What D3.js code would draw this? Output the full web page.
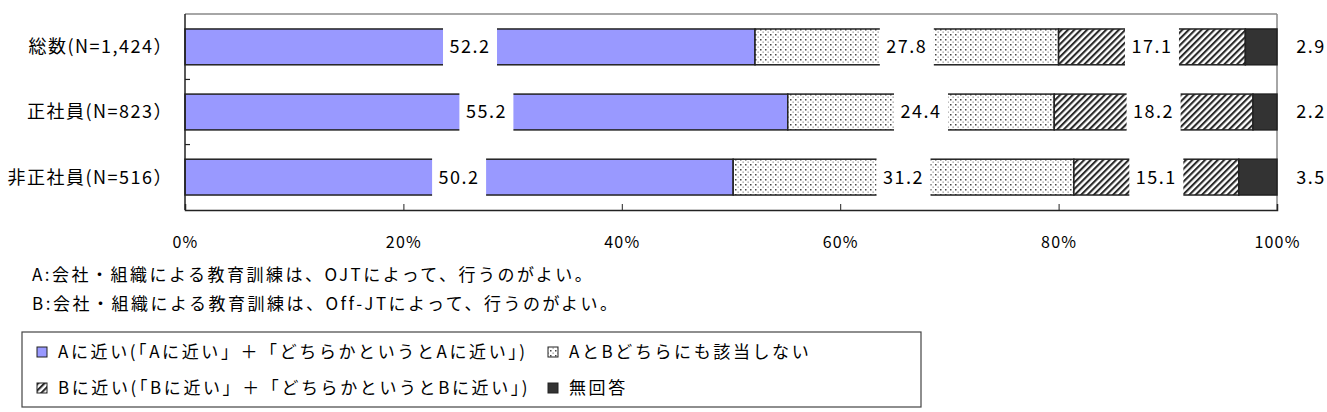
<!DOCTYPE html>
<html>
<head>
<meta charset="utf-8">
<script src="https://cdn.jsdelivr.net/npm/d3@7"></script>
<style>
  body { margin: 0; background: #fff; }
  text { font-family: "Noto Sans CJK JP", "Noto Sans", sans-serif; fill: #000; }
</style>
</head>
<body>
<div id="chart"></div>
<script>
var categories = ["総数(N=1,424）", "正社員(N=823）", "非正社員(N=516）"];
var seriesNames = [
    "Aに近い(「Aに近い」＋「どちらかというとAに近い」)",
    "AとBどちらにも該当しない",
    "Bに近い(「Bに近い」＋「どちらかというとBに近い」)",
    "無回答"
];
var valsA = [52.2, 55.2, 50.2];
var valsNeither = [27.8, 24.4, 31.2];
var valsB = [17.1, 18.2, 15.1];
var valsNA = [2.9, 2.2, 3.5];
var xTicks = [0, 20, 40, 60, 80, 100];
var noteLines = [
    "A:会社・組織による教育訓練は、OJTによって、行うのがよい。",
    "B:会社・組織による教育訓練は、Off-JTによって、行うのがよい。"
];

var W = 1327, H = 412;
var margin = {top: 14, left: 185};
var width = 1092, height = 196;

var svg = d3.select("#chart").append("svg")
    .attr("width", W)
    .attr("height", H);

// fill patterns
var defs = svg.append("defs");
var dots = defs.append("pattern")
    .attr("id", "dots")
    .attr("patternUnits", "userSpaceOnUse")
    .attr("width", 5).attr("height", 5);
dots.append("rect").attr("width", 5).attr("height", 5).attr("fill", "#fff");
dots.append("rect").attr("x", 0).attr("y", 0).attr("width", 1.5).attr("height", 1.5).attr("fill", "#444");
dots.append("rect").attr("x", 2.5).attr("y", 2.5).attr("width", 1.3).attr("height", 1.3).attr("fill", "#999");

var hatch = defs.append("pattern")
    .attr("id", "hatch")
    .attr("patternUnits", "userSpaceOnUse")
    .attr("width", 4.5).attr("height", 4.5)
    .attr("patternTransform", "rotate(45)");
hatch.append("rect").attr("width", 4.5).attr("height", 4.5).attr("fill", "#fff");
hatch.append("rect").attr("x", 0).attr("y", 0).attr("width", 2.1).attr("height", 4.5).attr("fill", "#2a2a2a");

var fills = ["#9999ff", "url(#dots)", "url(#hatch)", "#333333"];

var g = svg.append("g")
    .attr("transform", "translate(" + margin.left + "," + margin.top + ")");

var x = d3.scaleLinear().domain([0, 100]).range([0, width]);
var y = d3.scaleBand().domain(categories).range([0, height])
    .paddingInner(0.45).paddingOuter(0.23);

var rows = categories.map(function(c, i) {
    return {cat: c, A: valsA[i], N: valsNeither[i], B: valsB[i], X: valsNA[i]};
});
var stack = d3.stack().keys(["A", "N", "B", "X"])(rows);

// plot frame, top and right in grey
g.append("line").attr("x1", 0).attr("x2", width).attr("y1", 0).attr("y2", 0)
    .attr("stroke", "#888").attr("stroke-width", 1.5);
g.append("line").attr("x1", width).attr("x2", width).attr("y1", 0).attr("y2", height)
    .attr("stroke", "#888").attr("stroke-width", 1.5);

// bars
stack.forEach(function(layer, k) {
    g.append("g").selectAll("rect")
        .data(layer)
        .enter().append("rect")
        .attr("x", function(d) { return x(d[0]); })
        .attr("y", function(d) { return y(d.data.cat); })
        .attr("width", function(d) { return x(d[1]) - x(d[0]); })
        .attr("height", y.bandwidth())
        .attr("fill", fills[k])
        .attr("stroke", "#222")
        .attr("stroke-width", 1.5);
});

// value labels, white boxes sitting on the segments
stack.forEach(function(layer, k) {
    var lg = g.append("g").selectAll("g")
        .data(layer)
        .enter().append("g")
        .attr("transform", function(d) {
            var cx = k === 3 ? x(100) + 34 : x((d[0] + d[1]) / 2);
            return "translate(" + cx + "," + (y(d.data.cat) + y.bandwidth() / 2) + ")";
        });
    if (k < 3) {
        lg.append("rect")
            .attr("x", -27).attr("y", -y.bandwidth() / 2 - 2)
            .attr("width", 54).attr("height", y.bandwidth() + 4)
            .attr("fill", "#fff");
    }
    lg.append("text")
        .attr("text-anchor", "middle")
        .attr("dy", "0.36em")
        .style("font-size", "18px")
        .style("letter-spacing", "1.5px")
        .text(function(d) { return (d[1] - d[0]).toFixed(1); });
});

// left axis with separator ticks
g.append("line").attr("x1", 0).attr("x2", 0).attr("y1", 0).attr("y2", height)
    .attr("stroke", "#222").attr("stroke-width", 1.5);
for (var i = 1; i < categories.length; i++) {
    var sy = (y(categories[i - 1]) + y(categories[i]) + y.bandwidth()) / 2;
    g.append("line").attr("x1", 0).attr("x2", 5).attr("y1", sy).attr("y2", sy)
        .attr("stroke", "#222").attr("stroke-width", 1.2);
}
g.selectAll(".cat").data(categories).enter().append("text")
    .attr("x", -12)
    .attr("y", function(d) { return y(d) + y.bandwidth() / 2; })
    .attr("dy", "0.36em")
    .attr("text-anchor", "end")
    .style("font-size", "18px")
    .style("letter-spacing", "1.5px")
    .text(function(d) { return d; });

// bottom axis
var xAxis = g.append("g")
    .attr("transform", "translate(0," + height + ")")
    .call(d3.axisBottom(x).tickValues(xTicks).tickSize(-6).tickPadding(27)
        .tickFormat(function(d) { return d + "%"; }));
xAxis.select(".domain").attr("stroke", "#222").attr("stroke-width", 1.5);
xAxis.selectAll("line").attr("stroke", "#222");
xAxis.selectAll("text")
    .style("font-size", "16px")
    .style("letter-spacing", "1.2px")
    .attr("fill", "#000");

// notes under the axis
svg.selectAll(".note").data(noteLines).enter().append("text")
    .attr("x", 32)
    .attr("y", function(d, i) { return 275 + i * 29; })
    .attr("dy", "0.36em")
    .style("font-size", "17px")
    .style("letter-spacing", "2.5px")
    .text(function(d) { return d; });

// legend
var legend = svg.append("g");
legend.append("rect")
    .attr("x", 22).attr("y", 332).attr("width", 899).attr("height", 75)
    .attr("fill", "#fff").attr("stroke", "#444").attr("stroke-width", 1.2);
var legPos = [[37, 352], [548, 352], [37, 388], [548, 388]];
seriesNames.forEach(function(name, k) {
    var p = legPos[k];
    legend.append("rect")
        .attr("x", p[0]).attr("y", p[1] - 5).attr("width", 10).attr("height", 10)
        .attr("fill", fills[k]).attr("stroke", "#222").attr("stroke-width", 1);
    legend.append("text")
        .attr("x", p[0] + 21).attr("y", p[1])
        .attr("dy", "0.36em")
        .style("font-size", "17px")
        .style("letter-spacing", "2.6px")
        .text(name);
});
</script>
</body>
</html>
